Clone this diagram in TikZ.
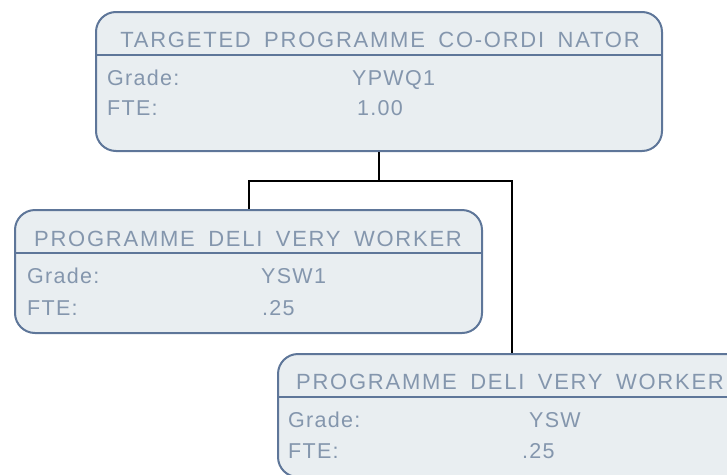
\documentclass[tikz,border=0pt]{standalone}
\usepackage{fontspec}
\setmainfont{Liberation Sans}
\newfontfamily\titlefont{Liberation Sans}[LetterSpace=8,WordSpace=1.7]
\newfontfamily\rowfont{Liberation Sans}[LetterSpace=6]
\usetikzlibrary{calc}
\definecolor{boxfill}{HTML}{E9EEF1}
\definecolor{boxline}{HTML}{5E7699}
\definecolor{boxtext}{HTML}{8496AD}
\tikzset{
  box/.style={draw=boxline, fill=boxfill, line width=2pt, rounded corners=20pt, anchor=north west, inner sep=0pt},
  divider/.style={draw=boxline, line width=2pt},
  txt/.style={text=boxtext, font=\rowfont\fontsize{21.5}{23}\selectfont, inner sep=0pt, anchor=base west},
  ttl/.style={text=boxtext, font=\titlefont\fontsize{22}{24}\selectfont, inner sep=0pt, anchor=base},
  conn/.style={draw=black, line width=2pt}
}
\begin{document}
\begin{tikzpicture}[x=1pt,y=-1pt]
\useasboundingbox (0,0) rectangle (727,474);
\clip (0,0) rectangle (727,474);
% boxes
\node[box, minimum width=566pt, minimum height=139pt] (b1) at (95,11) {};
\node[box, minimum width=467pt, minimum height=123pt] (b2) at (14,209) {};
\node[box, minimum width=467pt, minimum height=123pt] (b3) at (277,353) {};
% connectors
\coordinate (j) at ($(b1.south)+(0,29)$);
\draw[conn] (b1.south) -- (j) -| (b2.north);
\draw[conn] (j) -| (b3.north);
% dividers
\draw[divider] ([yshift=-44pt]b1.north west) -- ([yshift=-44pt]b1.north east);
\draw[divider] ([yshift=-44pt]b2.north west) -- ([yshift=-44pt]b2.north east);
\draw[divider] ([yshift=-44pt]b3.north west) -- ([yshift=-44pt]b3.north east);
% box 1 text
\node[ttl] (t1) at (380,47) {TARGETED PROGRAMME CO-ORDI NATOR};
\node[txt] (g1) at (107,85) {Grade:};
\node[txt] (gv1) at (352,85) {YPWQ1};
\node[txt] (f1) at (107,115) {FTE:};
\node[txt] (fv1) at (357,115) {1.00};
% box 2 text
\node[ttl] (t2) at (248,246) {PROGRAMME DELI VERY WORKER};
\node[txt] (g2) at (27,283) {Grade:};
\node[txt] (gv2) at (261,283) {YSW1};
\node[txt] (f2) at (27,315) {FTE:};
\node[txt] (fv2) at (262,315) {.25};
% box 3 text
\node[ttl] (t3) at (510,389) {PROGRAMME DELI VERY WORKER};
\node[txt] (g3) at (288,427) {Grade:};
\node[txt] (gv3) at (529,427) {YSW};
\node[txt] (f3) at (288,458) {FTE:};
\node[txt] (fv3) at (522,458) {.25};
\end{tikzpicture}
\end{document}
